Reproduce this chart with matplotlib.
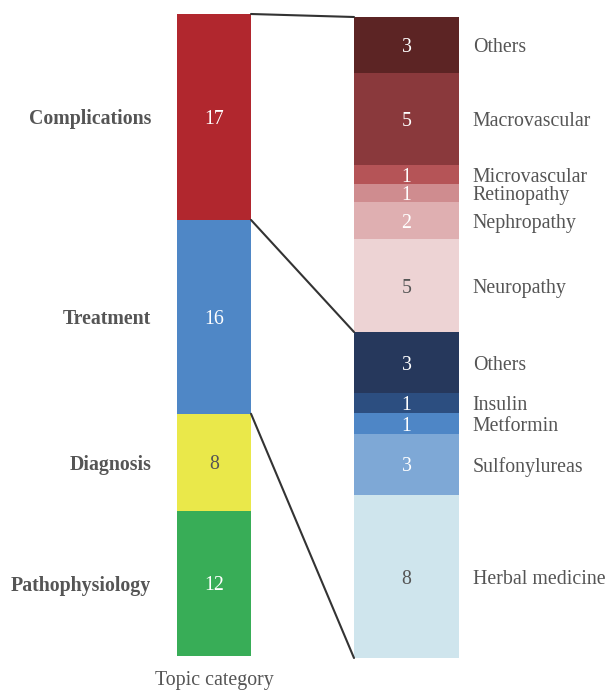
import matplotlib.pyplot as plt
import numpy as np
from matplotlib.patches import ConnectionPatch

# -----------------------
# Data
# -----------------------

categories = ["Complications", "Treatment", "Diagnosis", "Pathophysiology"]
counts = [17, 16, 8, 12]
cat_colors = ["#B1272E", "#4F87C6", "#EAE84A", "#38AD57"]

comp_labels = ["Others", "Macrovascular", "Microvascular", "Retinopathy",
               "Nephropathy", "Neuropathy"]
comp_counts = [3, 5, 1, 1, 2, 5]
comp_colors = ["#5C2424", "#8A393C", "#B55457", "#CF8C8F", "#DFAFB1", "#EDD3D4"]

treat_labels = ["Others", "Insulin", "Metformin", "Sulfonylureas", "Herbal medicine"]
treat_counts = [3, 1, 1, 3, 8]
treat_colors = ["#26385C", "#2C4E80", "#4E86C6", "#7EA8D6", "#CFE5ED"]

light = {"#EAE84A", "#EDD3D4", "#CFE5ED"}
grey = "#555555"
fs = 14.3

plt.rcParams["font.family"] = ["Liberation Serif", "DejaVu Serif"]

W, H = 609, 692
fig = plt.figure(figsize=(W / 100, H / 100), dpi=100)


def px_axes(x0, x1, y0, y1):
    # axes placed by pixel box (top-left origin)
    return fig.add_axes([x0 / W, 1 - y1 / H, (x1 - x0) / W, (y1 - y0) / H])


def stack(ax, values, colors):
    bottoms = np.concatenate([[0], np.cumsum(values)[:-1]])
    for v, b, c in zip(values, bottoms, colors):
        ax.bar(0, v, bottom=b, width=1, color=c, edgecolor="none")
        ax.text(0, b + v / 2, str(v), ha="center", va="center_baseline",
                fontsize=fs, color=grey if c in light else "white")
    ax.set_xlim(-0.5, 0.5)
    ax.set_ylim(sum(values), 0)
    ax.axis("off")
    return bottoms


ax_left = px_axes(177, 251, 14, 656)
b_left = stack(ax_left, counts, cat_colors)
for lab, v, b in zip(categories, counts, b_left):
    ax_left.text(-0.85, b + v / 2, lab, ha="right", va="center_baseline",
                 fontsize=fs, fontweight="bold", color=grey)
ax_left.text(0, sum(counts) + 1.85, "Topic category", ha="center",
             va="center_baseline", fontsize=fs, color=grey, clip_on=False)

ax_comp = px_axes(354, 459, 17, 332)
b_comp = stack(ax_comp, comp_counts, comp_colors)
for lab, v, b in zip(comp_labels, comp_counts, b_comp):
    ax_comp.text(0.63, b + v / 2, lab, ha="left", va="center_baseline",
                 fontsize=fs, color=grey)

ax_treat = px_axes(354, 459, 332, 658)
b_treat = stack(ax_treat, treat_counts, treat_colors)
for lab, v, b in zip(treat_labels, treat_counts, b_treat):
    ax_treat.text(0.63, b + v / 2, lab, ha="left", va="center_baseline",
                  fontsize=fs, color=grey)

# connector lines
links = [
    (0, ax_comp, 0),
    (counts[0], ax_comp, sum(comp_counts)),
    (counts[0] + counts[1], ax_treat, sum(treat_counts)),
]
for ya, ax_b, yb in links:
    con = ConnectionPatch(xyA=(0.5, ya), coordsA=ax_left.transData,
                          xyB=(-0.5, yb), coordsB=ax_b.transData,
                          color="#333333", lw=1.5)
    fig.add_artist(con)

fig.savefig("out.png", dpi=100)
